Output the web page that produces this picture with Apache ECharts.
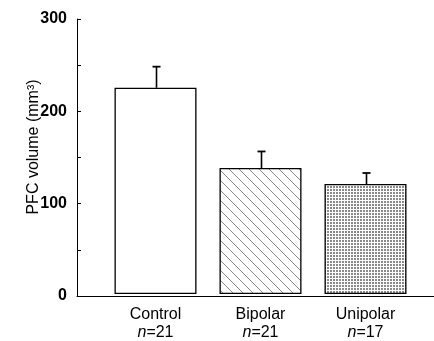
<!DOCTYPE html>
<html>
<head>
<meta charset="utf-8">
<script src="https://cdn.jsdelivr.net/npm/echarts@6/dist/echarts.min.js"></script>
<style>html,body{margin:0;padding:0;background:#fff;}#c{width:434px;height:341px;}</style>
</head>
<body>
<div id="c"></div>
<script>
var categories = ['Control', 'Bipolar', 'Unipolar'];
var sampleSizes = ['21', '21', '17'];
var means = [225, 137.5, 120];
var sems = [23, 18, 12];
var yTickLabels = ['0', '100', '200', '300'];
var yTitle = 'PFC volume (mm\u00B3)';

function makeTile(size, draw) {
  var cv = document.createElement('canvas');
  cv.width = size; cv.height = size;
  var ctx = cv.getContext('2d');
  ctx.fillStyle = '#fff';
  ctx.fillRect(0, 0, size, size);
  draw(ctx, size);
  return cv;
}
var hatch = makeTile(10, function (ctx, s) {
  ctx.strokeStyle = '#6a6a6a';
  ctx.lineWidth = 0.8;
  ctx.beginPath();
  ctx.moveTo(-1, -1); ctx.lineTo(s + 1, s + 1);
  ctx.moveTo(-1, s - 1); ctx.lineTo(1, s + 1);
  ctx.moveTo(s - 1, -1); ctx.lineTo(s + 1, 1);
  ctx.stroke();
});
var dots = makeTile(3, function (ctx, s) {
  ctx.fillStyle = '#8a8a8a';
  ctx.fillRect(0, 0, 2, 2);
});
var fills = ['#ffffff', {image: hatch, repeat: 'repeat'}, {image: dots, repeat: 'repeat'}];

var chart = echarts.init(document.getElementById('c'), null, {renderer: 'canvas'});
var font = '"Liberation Sans", Arial, Helvetica, sans-serif';

chart.setOption({
  animation: false,
  backgroundColor: '#fff',
  grid: [
    {left: 77, right: 0, top: 19, bottom: 45},
    {left: 103, right: 16, top: 19, bottom: 45}
  ],
  xAxis: [
    {gridIndex: 0, type: 'value', min: 0, max: 1, axisLine: {lineStyle: {color: '#000', width: 1}},
     axisTick: {show: false}, axisLabel: {show: false}, splitLine: {show: false}},
    {gridIndex: 1, type: 'category', data: categories, axisLine: {show: false}, axisTick: {show: false},
     splitLine: {show: false},
     axisLabel: {
       margin: 12, interval: 0,
       formatter: function (v, i) { return '{b|' + v + '}\n{i|n}{b|=' + sampleSizes[i] + '}'; },
       rich: {
         b: {fontFamily: font, fontSize: 16, color: '#000', lineHeight: 18},
         i: {fontFamily: font, fontSize: 16, fontStyle: 'italic', color: '#000', lineHeight: 18}
       }
     }}
  ],
  yAxis: [
    {gridIndex: 0, type: 'value', min: 0, max: 300, interval: 50,
     axisLine: {show: true, lineStyle: {color: '#000', width: 1}},
     axisTick: {show: true, inside: true, length: 4, lineStyle: {color: '#000'}},
     splitLine: {show: false},
     axisLabel: {margin: 10, fontFamily: font, fontSize: 16, fontWeight: 'bold', color: '#000',
       formatter: function (v) { var s = String(v); return yTickLabels.indexOf(s) >= 0 ? s : ''; }}},
    {gridIndex: 1, type: 'value', min: 0, max: 300, show: false}
  ],
  graphic: [{
    type: 'text', x: 34, y: 147, rotation: Math.PI / 2,
    style: {text: yTitle, fontFamily: font, fontSize: 16, fill: '#000', align: 'center', verticalAlign: 'middle'}
  }],
  series: [
    {
      type: 'bar', xAxisIndex: 1, yAxisIndex: 1, barWidth: 82,
      data: means.map(function (m, i) {
        return {value: m, itemStyle: {color: fills[i], borderColor: '#000', borderWidth: 1.3}};
      }),
      z: 2
    },
    {
      type: 'custom', xAxisIndex: 1, yAxisIndex: 1, z: 3,
      data: means.map(function (m, i) { return [i, m, m + sems[i]]; }),
      renderItem: function (params, api) {
        var base = api.coord([api.value(0), api.value(1)]);
        var top = api.coord([api.value(0), api.value(2)]);
        var x = Math.round(base[0]) + 0.5;
        return {
          type: 'group',
          children: [
            {type: 'line', shape: {x1: x, y1: base[1], x2: x, y2: top[1]}, style: {stroke: '#000', lineWidth: 1.6}},
            {type: 'line', shape: {x1: x - 4, y1: top[1], x2: x + 4, y2: top[1]}, style: {stroke: '#000', lineWidth: 1.8}}
          ]
        };
      }
    }
  ]
});
</script>
</body>
</html>
